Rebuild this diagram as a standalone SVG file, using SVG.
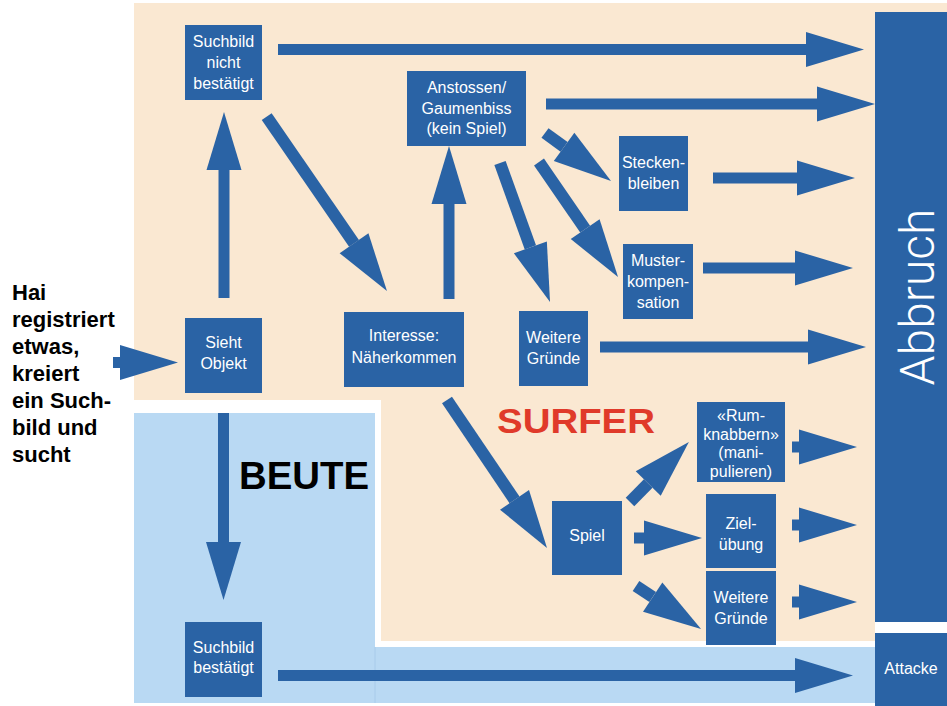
<svg xmlns="http://www.w3.org/2000/svg" xmlns:xlink="http://www.w3.org/1999/xlink" width="947" height="706" viewBox="0 0 947 706">
<style>
.box{fill:#2A63A5}
.t{font-family:"Liberation Sans",Arial,sans-serif;font-size:16px;fill:#fff;text-anchor:middle}
.arr{fill:#2A63A5}
.lab{font-family:"Liberation Sans",Arial,sans-serif;font-weight:bold;fill:#000}
</style>
<defs>
<polygon id="hd" points="0,0 -58,-17.5 -58,17.5"/>
</defs>
<rect width="947" height="706" fill="#fff"/>
<g id="background">
<rect x="134" y="3" width="813" height="397" fill="#FAE8D2"/>
<rect x="381" y="400" width="494" height="241" fill="#FAE8D2"/>
<rect x="134" y="413" width="241" height="290" fill="#B9D9F3"/>
<rect x="375" y="647" width="500" height="56" fill="#B9D9F3"/>
<line x1="375" y1="647" x2="375" y2="703" stroke="#A8CBEA" stroke-width="1"/>
</g>
<g id="labels">
<text class="lab" x="12" y="300" font-size="22">Hai</text>
<text class="lab" x="12" y="327" font-size="22">registriert</text>
<text class="lab" x="12" y="354" font-size="22">etwas,</text>
<text class="lab" x="12" y="381" font-size="22">kreiert</text>
<text class="lab" x="12" y="408" font-size="22">ein Such-</text>
<text class="lab" x="12" y="435" font-size="22">bild und</text>
<text class="lab" x="12" y="462" font-size="22">sucht</text>
<text class="lab" x="239" y="489" font-size="38" textLength="130" lengthAdjust="spacingAndGlyphs">BEUTE</text>
<text x="497" y="433" font-family="Liberation Sans,Arial,sans-serif" font-weight="bold" font-size="35" fill="#E03A2A" textLength="158" lengthAdjust="spacingAndGlyphs">SURFER</text>
</g>
<g id="connectors">
<g class="arr" transform="translate(113,362.5)"><rect x="0" y="-5.5" width="7" height="11"/><use href="#hd" x="65"/></g>
<g class="arr" transform="translate(224,298) rotate(-90)"><rect x="0" y="-5.5" width="128" height="11"/><use href="#hd" x="186"/></g>
<g class="arr" transform="translate(266.7,116.7) rotate(55.4)"><rect x="0" y="-6" width="153.8" height="12"/><use href="#hd" x="211.8"/></g>
<g class="arr" transform="translate(449,299) rotate(-90)"><rect x="0" y="-5.5" width="95" height="11"/><use href="#hd" x="153"/></g>
<g class="arr" transform="translate(278,49.5)"><rect x="0" y="-5.5" width="528" height="11"/><use href="#hd" x="586"/></g>
<g class="arr" transform="translate(546,104)"><rect x="0" y="-5.5" width="271" height="11"/><use href="#hd" x="329"/></g>
<g class="arr" transform="translate(545,133) rotate(36)"><rect x="0" y="-6" width="23.6" height="12"/><use href="#hd" x="81.6"/></g>
<g class="arr" transform="translate(500,163) rotate(70.2)"><rect x="0" y="-6" width="89.7" height="12"/><use href="#hd" x="147.7"/></g>
<g class="arr" transform="translate(539,162) rotate(55.5)"><rect x="0" y="-6" width="81.5" height="12"/><use href="#hd" x="139.5"/></g>
<g class="arr" transform="translate(713,178)"><rect x="0" y="-5.5" width="84" height="11"/><use href="#hd" x="142"/></g>
<g class="arr" transform="translate(703,268)"><rect x="0" y="-5.5" width="92" height="11"/><use href="#hd" x="150"/></g>
<g class="arr" transform="translate(600,347)"><rect x="0" y="-5.5" width="208" height="11"/><use href="#hd" x="266"/></g>
<g class="arr" transform="translate(447,400) rotate(55.95)"><rect x="0" y="-6" width="120.6" height="12"/><use href="#hd" x="178.6"/></g>
<g class="arr" transform="translate(223.5,413) rotate(90)"><rect x="0" y="-5.5" width="129" height="11"/><use href="#hd" x="187"/></g>
<g class="arr" transform="translate(278,675.5)"><rect x="0" y="-5.5" width="517" height="11"/><use href="#hd" x="575"/></g>
<g class="arr" transform="translate(630,502) rotate(-45.5)"><rect x="0" y="-6" width="26" height="12"/><use href="#hd" x="84"/></g>
<g class="arr" transform="translate(634,538)"><rect x="0" y="-5.5" width="10" height="11"/><use href="#hd" x="68"/></g>
<g class="arr" transform="translate(636,586) rotate(33.5)"><rect x="0" y="-6" width="20" height="12"/><use href="#hd" x="78"/></g>
<g class="arr" transform="translate(792,447)"><rect x="0" y="-5.5" width="7" height="11"/><use href="#hd" x="65"/></g>
<g class="arr" transform="translate(792,525)"><rect x="0" y="-5.5" width="7" height="11"/><use href="#hd" x="65"/></g>
<g class="arr" transform="translate(792,602)"><rect x="0" y="-5.5" width="7" height="11"/><use href="#hd" x="65"/></g>
</g>
<g id="n-suchbild-nicht"><rect class="box" x="185" y="25" width="77" height="75"/><text class="t" x="223.5" y="47">Suchbild</text><text class="t" x="223.5" y="68">nicht</text><text class="t" x="223.5" y="89">bestätigt</text></g>
<g id="n-sieht"><rect class="box" x="185" y="318" width="77" height="75"/><text class="t" x="223.5" y="348">Sieht</text><text class="t" x="223.5" y="369">Objekt</text></g>
<g id="n-interesse"><rect class="box" x="344" y="312" width="120" height="75"/><text class="t" x="404" y="341">Interesse:</text><text class="t" x="404" y="363">Näherkommen</text></g>
<g id="n-anstossen"><rect class="box" x="407" y="71" width="119" height="75"/><text class="t" x="466.5" y="93">Anstossen/</text><text class="t" x="466.5" y="114">Gaumenbiss</text><text class="t" x="466.5" y="134">(kein Spiel)</text></g>
<g id="n-stecken"><rect class="box" x="619" y="136" width="69" height="75"/><text class="t" x="653.5" y="168">Stecken-</text><text class="t" x="653.5" y="189">bleiben</text></g>
<g id="n-muster"><rect class="box" x="623" y="244" width="70" height="75"/><text class="t" x="658" y="266">Muster-</text><text class="t" x="658" y="287">kompen-</text><text class="t" x="658" y="308">sation</text></g>
<g id="n-weitere1"><rect class="box" x="519" y="311" width="69" height="75"/><text class="t" x="553.5" y="343">Weitere</text><text class="t" x="553.5" y="364">Gründe</text></g>
<g id="n-spiel"><rect class="box" x="552" y="501" width="70" height="74"/><text class="t" x="587" y="541">Spiel</text></g>
<g id="n-rum"><rect class="box" x="697" y="402" width="88" height="80"/><text class="t" x="741" y="421">«Rum-</text><text class="t" x="741" y="439.5">knabbern»</text><text class="t" x="741" y="458">(mani-</text><text class="t" x="741" y="476.5">pulieren)</text></g>
<g id="n-ziel"><rect class="box" x="706" y="494" width="70" height="74"/><text class="t" x="741" y="529">Ziel-</text><text class="t" x="741" y="550">übung</text></g>
<g id="n-weitere2"><rect class="box" x="706" y="571" width="70" height="74"/><text class="t" x="741" y="603">Weitere</text><text class="t" x="741" y="624">Gründe</text></g>
<g id="n-suchbild-best"><rect class="box" x="185" y="622" width="77" height="75"/><text class="t" x="223.5" y="653">Suchbild</text><text class="t" x="223.5" y="673">bestätigt</text></g>
<g id="n-abbruch"><rect class="box" x="875" y="12" width="72" height="610"/><text transform="translate(934,297) rotate(-90)" font-family="Roboto,'Liberation Sans',sans-serif" font-weight="300" font-size="48" fill="#fff" text-anchor="middle">Abbruch</text></g>
<g id="n-attacke"><rect class="box" x="875" y="633" width="72" height="73"/><text class="t" x="911" y="674">Attacke</text></g>
</svg>
